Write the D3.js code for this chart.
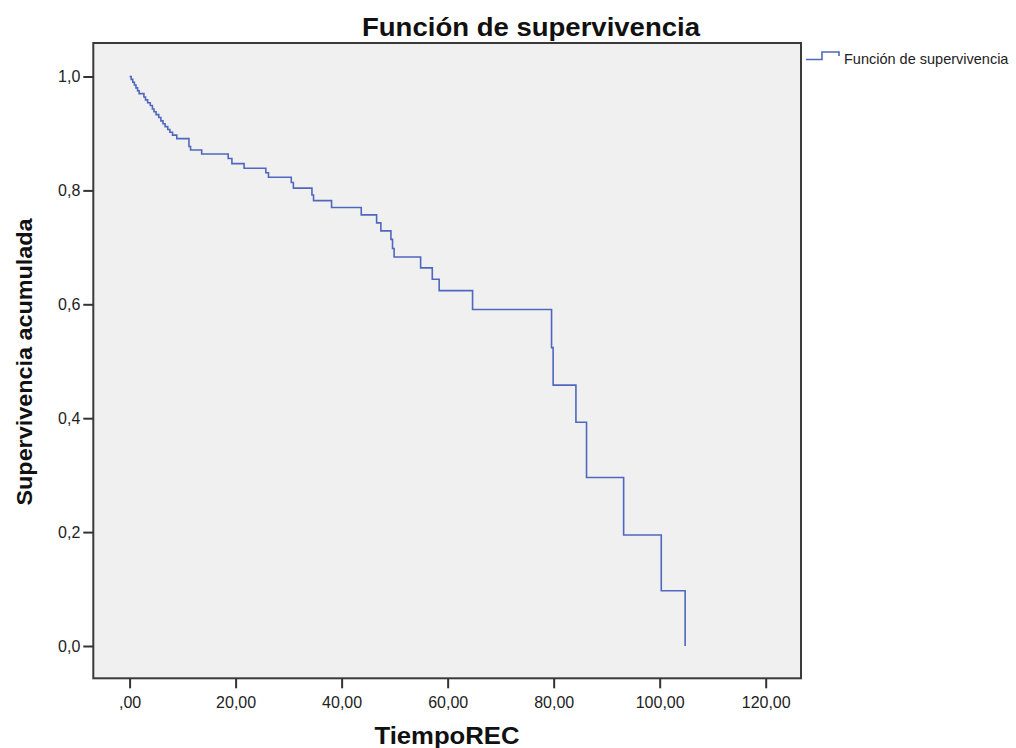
<!DOCTYPE html>
<html>
<head>
<meta charset="utf-8">
<script src="https://cdn.jsdelivr.net/npm/d3@7"></script>
<style>
  html, body { margin: 0; padding: 0; background: #ffffff; overflow: hidden; }
  svg { display: block; font-family: "Liberation Sans", Arial, sans-serif; }
</style>
</head>
<body>
<svg id="chart" width="1016" height="748"></svg>
<script>
// ---- data ----
const eventTimes = [0, 0.3, 0.6, 0.9, 1.2, 1.5, 1.8, 2.7, 3.0, 3.4, 3.9, 4.3, 4.6, 5.0, 5.5, 5.9, 6.3, 6.7, 7.2, 7.6, 8.1, 8.9,
  11.2, 11.5, 13.6, 18.6, 19.3, 21.6, 25.7, 26.2, 30.5, 30.9, 34.4, 34.7, 38.1, 43.7, 46.6, 47.4, 49.3, 49.6, 49.9,
  54.9, 57.1, 58.4, 64.7, 79.6, 79.9, 84.2, 86.2, 93.2, 100.3, 104.8];
const survivalValues = [1.0, 0.995, 0.990, 0.985, 0.980, 0.975, 0.970, 0.964, 0.959, 0.954, 0.949, 0.943, 0.938, 0.933, 0.928, 0.922, 0.917, 0.912, 0.907, 0.902, 0.897, 0.891,
  0.877, 0.871, 0.864, 0.856, 0.847, 0.839, 0.831, 0.823, 0.814, 0.804, 0.792, 0.782, 0.770, 0.757, 0.743, 0.729, 0.714, 0.698, 0.683,
  0.664, 0.644, 0.624, 0.591, 0.524, 0.458, 0.393, 0.296, 0.195, 0.097, 0.0];
const xTickValues = [0, 20, 40, 60, 80, 100, 120];
const xTickLabels = [",00", "20,00", "40,00", "60,00", "80,00", "100,00", "120,00"];
const yTickValues = [0, 0.2, 0.4, 0.6, 0.8, 1.0];
const yTickLabels = ["0,0", "0,2", "0,4", "0,6", "0,8", "1,0"];
const titleText = "Función de supervivencia";
const xLabelText = "TiempoREC";
const yLabelText = "Supervivencia acumulada";
const legendText = "Función de supervivencia";

// ---- layout ----
const frame = { left: 93.3, right: 801, top: 43, bottom: 678.3 };
const lineColor = "#4f67bf";

const svg = d3.select("#chart");

const x = d3.scaleLinear().domain([0, 120]).range([129.6, 765.7]);
const y = d3.scaleLinear().domain([0, 1]).range([646, 76.5]);

// plot background + frame
svg.append("rect")
  .attr("x", frame.left).attr("y", frame.top)
  .attr("width", frame.right - frame.left).attr("height", frame.bottom - frame.top)
  .attr("fill", "#f0f0f0").attr("stroke", "#3a3a3a").attr("stroke-width", 2);

// axes
const xAxis = d3.axisBottom(x).tickValues(xTickValues)
  .tickFormat((d, i) => xTickLabels[i]).tickSize(10).tickPadding(5);
const gx = svg.append("g").attr("transform", `translate(0,${frame.bottom})`).call(xAxis);
gx.select(".domain").remove();
gx.selectAll(".tick line").attr("stroke", "#333").attr("stroke-width", 2);
gx.selectAll(".tick text").attr("fill", "#222").style("font-size", "16px")
  .style("font-family", "'Liberation Sans', Arial, sans-serif").attr("dy", "0.9em");

const yAxis = d3.axisLeft(y).tickValues(yTickValues)
  .tickFormat((d, i) => yTickLabels[i]).tickSize(10).tickPadding(3);
const gy = svg.append("g").attr("transform", `translate(${frame.left},0)`).call(yAxis);
gy.select(".domain").remove();
gy.selectAll(".tick line").attr("stroke", "#333").attr("stroke-width", 2);
gy.selectAll(".tick text").attr("fill", "#222").style("font-size", "16px")
  .style("font-family", "'Liberation Sans', Arial, sans-serif");

// survival step line
const pts = eventTimes.map((t, i) => [t, survivalValues[i]]);
const line = d3.line().x(d => x(d[0])).y(d => y(d[1])).curve(d3.curveStepAfter);
svg.append("path").datum(pts)
  .attr("d", line)
  .attr("fill", "none").attr("stroke", lineColor).attr("stroke-width", 1.6);

// title
svg.append("text").attr("x", 531).attr("y", 36).attr("text-anchor", "middle")
  .attr("font-weight", "bold").attr("font-size", 25).attr("fill", "#111")
  .attr("textLength", 338).attr("lengthAdjust", "spacingAndGlyphs")
  .text(titleText);

// x label
svg.append("text").attr("x", 447).attr("y", 744).attr("text-anchor", "middle")
  .attr("font-weight", "bold").attr("font-size", 23).attr("fill", "#111")
  .attr("textLength", 145).attr("lengthAdjust", "spacingAndGlyphs")
  .text(xLabelText);

// y label
svg.append("text").attr("transform", "translate(32,362) rotate(-90)").attr("text-anchor", "middle")
  .attr("font-weight", "bold").attr("font-size", 22).attr("fill", "#111")
  .attr("textLength", 287).attr("lengthAdjust", "spacingAndGlyphs")
  .text(yLabelText);

// legend
const lg = svg.append("g");
lg.append("path")
  .attr("d", "M806,59.5 H822 V52 H839 V56")
  .attr("fill", "none").attr("stroke", lineColor).attr("stroke-width", 1.6);
lg.append("text").attr("x", 844).attr("y", 63.5)
  .attr("font-size", 14.5).attr("fill", "#222")
  .text(legendText);
</script>
</body>
</html>
